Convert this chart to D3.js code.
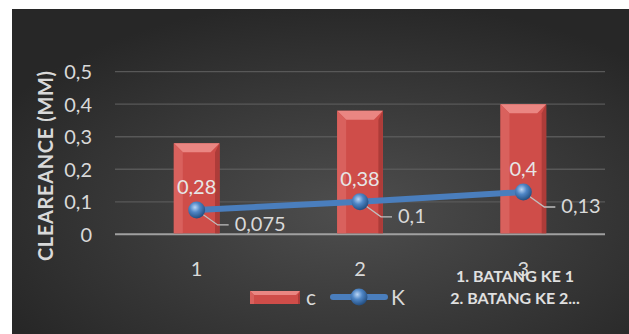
<!DOCTYPE html>
<html>
<head>
<meta charset="utf-8"/>
<script src="https://d3js.org/d3.v7.min.js"></script>
<style>
  body { margin: 0; background: #fff; }
  text { font-family: Lato, "Open Sans", sans-serif; }
</style>
</head>
<body>
<script>
// data
const categories = ["1", "2", "3"]
const cValues = [0.28, 0.38, 0.4]
const kValues = [0.075, 0.1, 0.13]
const cLabels = ["0,28", "0,38", "0,4"]
const kLabels = ["0,075", "0,1", "0,13"]
const yTicks = [0, 0.1, 0.2, 0.3, 0.4, 0.5]
const notes = ["1. BATANG KE 1", "2. BATANG KE 2..."]

const width = 629, height = 334
const svg = d3.select("body").append("svg").attr("width", width).attr("height", height)
const defs = svg.append("defs")

// background
const bg = defs.append("radialGradient").attr("id", "bg")
  .attr("cx", "55%").attr("cy", "62%").attr("r", "65%")
bg.append("stop").attr("offset", "0%").attr("stop-color", "#4e4e4e")
bg.append("stop").attr("offset", "100%").attr("stop-color", "#272727")

const ball = defs.append("radialGradient").attr("id", "ball")
  .attr("cx", "40%").attr("cy", "35%").attr("r", "65%")
ball.append("stop").attr("offset", "0%").attr("stop-color", "#b9d5f5")
ball.append("stop").attr("offset", "45%").attr("stop-color", "#4f86c6")
ball.append("stop").attr("offset", "100%").attr("stop-color", "#244f82")

svg.append("rect").attr("x", 12).attr("y", 9).attr("width", width - 12).attr("height", height - 9)
  .attr("fill", "url(#bg)")

const x = d3.scaleBand().domain(categories).range([115, 605]).paddingInner(0.72).paddingOuter(0.36)
const y = d3.scaleLinear().domain([0, 0.5]).range([234.3, 71.7])
const cx = d => x(d) + x.bandwidth() / 2

// grid
svg.append("g").selectAll("line").data(yTicks).join("line")
  .attr("x1", 115).attr("x2", 605)
  .attr("y1", d => y(d)).attr("y2", d => y(d))
  .attr("stroke", d => d === 0 ? "#a0a0a0" : "#585858")
  .attr("stroke-width", d => d === 0 ? 2 : 1.3)

// y axis labels
const yAxis = svg.append("g").attr("transform", "translate(92,0)")
  .call(d3.axisLeft(y).tickValues(yTicks).tickSize(0).tickPadding(0)
    .tickFormat(d => d3.format(".1~f")(d).replace(".", ",")))
yAxis.select(".domain").remove()
yAxis.selectAll("text").attr("fill", "#d9d9d9").style("font-size", "20px")
  .style("font-family", "Lato, sans-serif").attr("dy", "0.36em")

// x axis labels
const xAxis = svg.append("g").attr("transform", "translate(0,258)")
  .call(d3.axisBottom(x).tickSize(0).tickPadding(0))
xAxis.select(".domain").remove()
xAxis.selectAll("text").attr("fill", "#d9d9d9").style("font-size", "20px")
  .style("font-family", "Lato, sans-serif").attr("dy", "0.9em")

// y title
svg.append("text").attr("transform", "translate(53,166) rotate(-90)")
  .attr("text-anchor", "middle").attr("fill", "#d9d9d9")
  .style("font-size", "20px").style("font-weight", "bold")
  .attr("textLength", 190).attr("lengthAdjust", "spacing")
  .text("CLEAREANCE (MM)")

// bevelled bars
function bar(g, x0, y0, w, h, b) {
  g.append("rect").attr("x", x0).attr("y", y0).attr("width", w).attr("height", h).attr("fill", "#cf4d49")
  g.append("polygon").attr("points", [[x0, y0], [x0 + w, y0], [x0 + w - b, y0 + b], [x0 + b, y0 + b]].join(" "))
    .attr("fill", "#ea8682")
  g.append("polygon").attr("points", [[x0, y0], [x0 + b, y0 + b], [x0 + b, y0 + h], [x0, y0 + h]].join(" "))
    .attr("fill", "#d9615d")
  g.append("polygon").attr("points", [[x0 + w, y0], [x0 + w - b * 0.5, y0 + b], [x0 + w - b * 0.5, y0 + h], [x0 + w, y0 + h]].join(" "))
    .attr("fill", "#ad3c39")
}
const bars = svg.append("g")
categories.forEach((c, i) => {
  bar(bars.append("g"), x(c), y(cValues[i]), x.bandwidth(), y(0) - y(cValues[i]) - 1, 9)
})

// K line
const line = d3.line().x((d, i) => cx(categories[i])).y(d => y(d))
svg.append("path").datum(kValues).attr("d", line)
  .attr("fill", "none").attr("stroke", "#4a7ebd").attr("stroke-width", 6)

// leader lines and K labels
svg.append("g").selectAll("path").data(kValues).join("path")
  .attr("d", (d, i) => {
    const px = cx(categories[i]), py = y(d)
    return `M${px},${py} L${px + 21},${py + 15} L${px + 32},${py + 15}`
  })
  .attr("fill", "none").attr("stroke", "#bfbfbf").attr("stroke-width", 1.3)

svg.append("g").selectAll("circle").data(kValues).join("circle")
  .attr("cx", (d, i) => cx(categories[i])).attr("cy", d => y(d)).attr("r", 8.5)
  .attr("fill", "url(#ball)")

svg.append("g").selectAll("text").data(kLabels).join("text")
  .attr("x", (d, i) => cx(categories[i]) + 38).attr("y", (d, i) => y(kValues[i]) + 21)
  .attr("fill", "#d9d9d9").style("font-size", "20px").text(d => d)

// C labels
svg.append("g").selectAll("text").data(cLabels).join("text")
  .attr("x", (d, i) => cx(categories[i])).attr("y", (d, i) => y(kValues[i]) - 16)
  .attr("text-anchor", "middle").attr("fill", "#e6e6e6").style("font-size", "20px").text(d => d)

// legend
const lg = svg.append("g")
bar(lg, 250, 291, 50, 13, 4)
lg.append("text").attr("x", 306).attr("y", 305).attr("fill", "#d9d9d9").style("font-size", "21px").text("c")
lg.append("line").attr("x1", 333).attr("x2", 385).attr("y1", 297).attr("y2", 297)
  .attr("stroke", "#4a7ebd").attr("stroke-width", 6).attr("stroke-linecap", "round")
lg.append("circle").attr("cx", 359).attr("cy", 297).attr("r", 8.5).attr("fill", "url(#ball)")
lg.append("text").attr("x", 391).attr("y", 305).attr("fill", "#d9d9d9").style("font-size", "21px").text("K")

// notes
svg.append("g").selectAll("text").data(notes).join("text")
  .attr("x", 515).attr("y", (d, i) => 282 + i * 22)
  .attr("text-anchor", "middle").attr("fill", "#e0e0e0")
  .style("font-size", "16px").style("font-weight", "bold").text(d => d)
</script>
</body>
</html>
